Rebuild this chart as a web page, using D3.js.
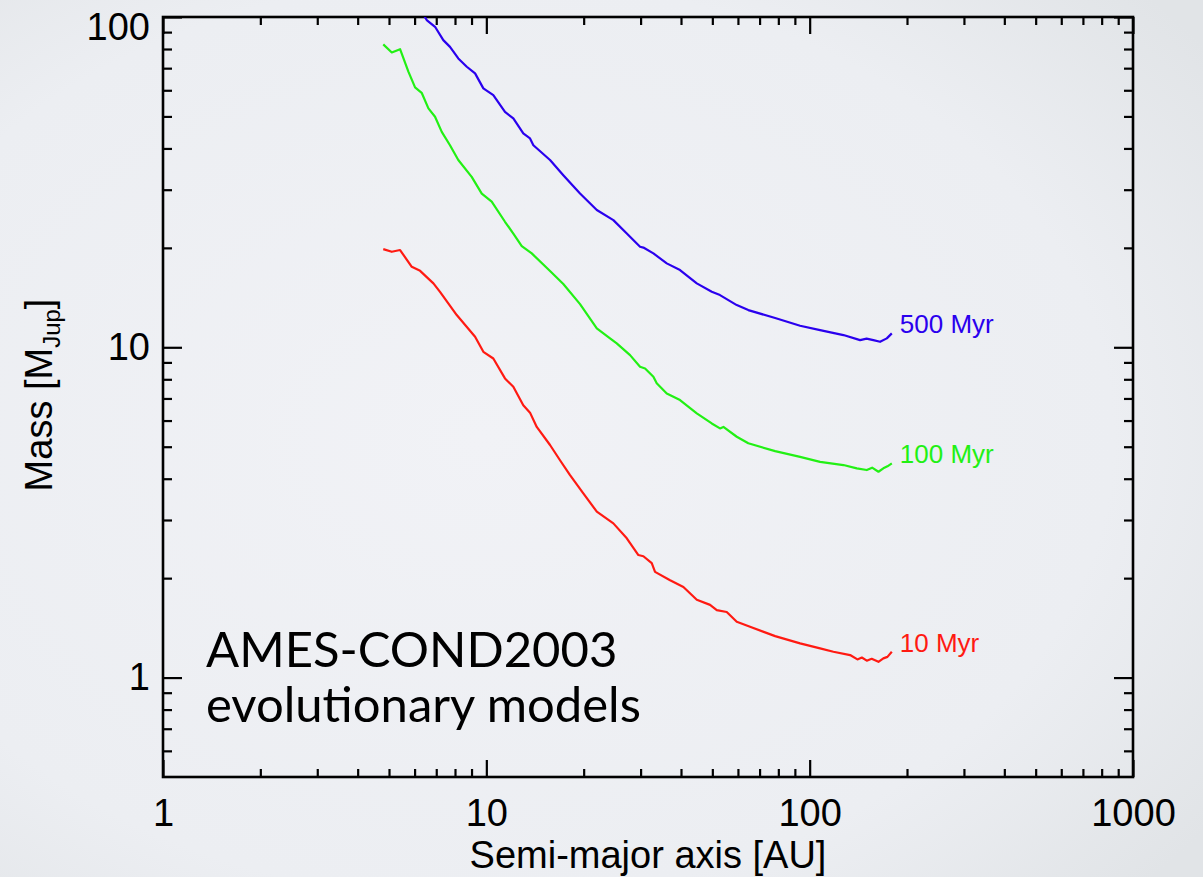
<!DOCTYPE html>
<html>
<head>
<meta charset="utf-8">
<script src="https://cdn.jsdelivr.net/npm/d3@7"></script>
<style>
  html, body { margin: 0; padding: 0; background: #eceef2; }
  svg { display: block; }
</style>
</head>
<body>
<div id="chart"></div>
<script>
// Semi-major axis [AU] and detection mass [MJup] per model age
var ageLabels = ['10 Myr', '100 Myr', '500 Myr'];
var ageColors = ['#ff1a12', '#22f014', '#2a00ee'];

var sepRed = [4.80, 5.10, 5.41, 5.88, 6.24, 6.86, 7.19, 8.10, 9.23, 9.79, 10.51, 11.42, 12.12, 13.01, 13.65, 14.32, 15.74, 16.90, 18.15, 19.95, 21.96, 24.71, 27.19, 29.53, 30.6, 32.48, 33.25, 37.01, 40.69, 44.76, 49.20, 51.6, 55.4, 59.5, 65.4, 78.2, 93.4, 107.7, 118.4, 133.4, 140.5, 145.0, 150.2, 155.5, 163.2, 169.0, 174.0, 179.5];
var massRed = [19.83, 19.46, 19.70, 17.52, 17.04, 15.61, 14.72, 12.52, 10.76, 9.69, 9.25, 8.05, 7.59, 6.68, 6.34, 5.74, 5.06, 4.55, 4.10, 3.61, 3.18, 2.93, 2.64, 2.35, 2.33, 2.22, 2.09, 1.97, 1.88, 1.72, 1.66, 1.60, 1.58, 1.475, 1.425, 1.335, 1.269, 1.226, 1.197, 1.170, 1.135, 1.150, 1.125, 1.140, 1.116, 1.143, 1.155, 1.197];

var sepGreen = [4.80, 5.10, 5.41, 5.74, 6.02, 6.31, 6.62, 6.94, 7.28, 7.72, 8.19, 9.01, 9.68, 10.39, 11.42, 12.12, 12.87, 13.82, 15.74, 17.30, 19.49, 21.96, 24.13, 25.31, 27.83, 29.88, 30.97, 32.86, 33.65, 36.14, 39.72, 44.76, 49.80, 52.8, 54.1, 59.5, 64.6, 78.2, 93.4, 107.7, 127.2, 139.9, 150.2, 156.0, 163.2, 169.0, 174.0, 179.5];
var massGreen = [82.6, 78.1, 79.9, 68.3, 61.2, 58.96, 52.9, 49.9, 44.9, 40.9, 36.9, 32.8, 29.2, 27.6, 23.99, 22.1, 20.25, 19.24, 17.03, 15.54, 13.51, 11.41, 10.64, 10.28, 9.47, 8.73, 8.63, 8.14, 7.78, 7.25, 6.92, 6.31, 5.88, 5.68, 5.74, 5.36, 5.12, 4.85, 4.66, 4.50, 4.40, 4.30, 4.25, 4.32, 4.20, 4.30, 4.36, 4.45];

var sepBlue = [6.3, 6.54, 6.94, 7.36, 7.72, 8.19, 8.70, 9.23, 9.79, 10.51, 11.42, 12.12, 13.01, 13.65, 13.98, 15.74, 17.30, 19.49, 21.96, 24.71, 27.19, 29.88, 30.6, 32.86, 36.14, 39.72, 44.76, 49.80, 52.8, 59.5, 64.6, 78.2, 93.4, 107.7, 127.2, 143.2, 150.0, 157.4, 165.1, 173.2, 179.5];
var massBlue = [104, 97.9, 93.4, 85.1, 81.2, 74.9, 70.7, 67.5, 60.8, 58.0, 51.6, 49.3, 44.4, 42.9, 40.9, 36.9, 33.2, 29.2, 26.03, 24.27, 22.1, 20.15, 20.04, 19.24, 17.95, 17.13, 15.61, 14.72, 14.39, 13.42, 12.96, 12.26, 11.62, 11.27, 10.89, 10.51, 10.62, 10.51, 10.39, 10.64, 11.02];

// tick values
var xMajor = [1, 10, 100, 1000];
var xMinor = [2, 3, 4, 5, 6, 7, 8, 9, 20, 30, 40, 50, 60, 70, 80, 90, 200, 300, 400, 500, 600, 700, 800, 900];
var yMajor = [1, 10, 100];
var yMinor = [0.6, 0.7, 0.8, 0.9, 2, 3, 4, 5, 6, 7, 8, 9, 20, 30, 40, 50, 60, 70, 80, 90];

var series = [
  { label: ageLabels[0], color: ageColors[0], sep: sepRed, mass: massRed },
  { label: ageLabels[1], color: ageColors[1], sep: sepGreen, mass: massGreen },
  { label: ageLabels[2], color: ageColors[2], sep: sepBlue, mass: massBlue }
];

// Set Width and Height
var svgWidth = 1203;
var svgHeight = 877;

var margin = { top: 17, right: 70, bottom: 100, left: 163 };
var width = 970;
var height = 760;

var svg = d3.select('#chart').append('svg')
  .attr('width', svgWidth)
  .attr('height', svgHeight);

// soft slide-like background
var defs = svg.append('defs');
var grad = defs.append('radialGradient')
  .attr('id', 'bg')
  .attr('cx', '40%').attr('cy', '50%').attr('r', '75%');
grad.append('stop').attr('offset', '0%').attr('stop-color', '#f1f2f6');
grad.append('stop').attr('offset', '70%').attr('stop-color', '#eceef2');
grad.append('stop').attr('offset', '100%').attr('stop-color', '#e1e4e7');

svg.append('rect')
  .attr('width', svgWidth)
  .attr('height', svgHeight)
  .attr('fill', 'url(#bg)');

defs.append('clipPath').attr('id', 'plotClip')
  .append('rect').attr('width', width).attr('height', height);

var chartGroup = svg.append('g')
  .attr('transform', `translate(${margin.left}, ${margin.top})`);

var xScale = d3.scaleLog().domain([1, 1000]).range([0, width]);
var yScale = d3.scaleLog().domain([0.5, 100]).range([height, 0]);

var tickFont = '"Liberation Sans", Arial, Helvetica, sans-serif';

function styleAxis(g, showText) {
  g.select('.domain').remove();
  g.selectAll('line').attr('stroke', '#000').attr('stroke-width', 2.2);
  g.selectAll('text')
    .attr('fill', '#000')
    .style('font-family', tickFont)
    .style('font-size', '38px');
  if (!showText) g.selectAll('text').remove();
}

// bottom axis
chartGroup.append('g')
  .attr('transform', `translate(0, ${height})`)
  .call(d3.axisBottom(xScale).tickValues(xMinor).tickSize(-8).tickFormat(''))
  .call(g => styleAxis(g, false));
chartGroup.append('g')
  .attr('transform', `translate(0, ${height})`)
  .call(d3.axisBottom(xScale).tickValues(xMajor).tickSize(-17).tickPadding(22).tickFormat(d3.format('d')))
  .call(g => styleAxis(g, true));

// top axis
chartGroup.append('g')
  .call(d3.axisTop(xScale).tickValues(xMinor).tickSize(-8).tickFormat(''))
  .call(g => styleAxis(g, false));
chartGroup.append('g')
  .call(d3.axisTop(xScale).tickValues(xMajor).tickSize(-17).tickFormat(''))
  .call(g => styleAxis(g, false));

// left axis
chartGroup.append('g')
  .call(d3.axisLeft(yScale).tickValues(yMinor).tickSize(-9).tickFormat(''))
  .call(g => styleAxis(g, false));
chartGroup.append('g')
  .call(d3.axisLeft(yScale).tickValues(yMajor).tickSize(-19).tickPadding(13).tickFormat(d3.format('d')))
  .call(g => styleAxis(g, true))
  // top label sits just inside the page edge
  .call(g => g.selectAll('.tick').filter(d => d === 100).select('text').attr('y', 10));

// right axis
chartGroup.append('g')
  .attr('transform', `translate(${width}, 0)`)
  .call(d3.axisRight(yScale).tickValues(yMinor).tickSize(-9).tickFormat(''))
  .call(g => styleAxis(g, false));
chartGroup.append('g')
  .attr('transform', `translate(${width}, 0)`)
  .call(d3.axisRight(yScale).tickValues(yMajor).tickSize(-19).tickFormat(''))
  .call(g => styleAxis(g, false));

// frame
chartGroup.append('rect')
  .attr('width', width)
  .attr('height', height)
  .attr('fill', 'none')
  .attr('stroke', '#000')
  .attr('stroke-width', 2.6);

// curves
var line = d3.line()
  .x(d => xScale(d[0]))
  .y(d => yScale(d[1]));

var curveGroup = chartGroup.append('g').attr('clip-path', 'url(#plotClip)');

series.forEach(function (s) {
  var pts = s.sep.map((a, i) => [a, s.mass[i]]);
  curveGroup.append('path')
    .datum(pts)
    .attr('d', line)
    .attr('fill', 'none')
    .attr('stroke', s.color)
    .attr('stroke-width', 2.2)
    .attr('stroke-linejoin', 'round');

  var last = pts[pts.length - 1];
  chartGroup.append('text')
    .attr('x', xScale(last[0]) + 8)
    .attr('y', yScale(last[1]))
    .attr('fill', s.color)
    .style('font-family', tickFont)
    .style('font-size', '26px')
    .text(s.label);
});

// axis titles
svg.append('text')
  .attr('x', margin.left + width / 2)
  .attr('y', 868)
  .attr('text-anchor', 'middle')
  .style('font-family', tickFont)
  .style('font-size', '38px')
  .text('Semi-major axis [AU]');

var yTitle = svg.append('text')
  .attr('transform', `translate(52, ${margin.top + height / 2 - 2}) rotate(-90)`)
  .attr('text-anchor', 'middle')
  .style('font-family', tickFont)
  .style('font-size', '38px');
yTitle.append('tspan').text('Mass [M');
yTitle.append('tspan').attr('dy', 8).style('font-size', '24px').text('Jup');
yTitle.append('tspan').attr('dy', -8).text(']');

// model annotation
var note = svg.append('text')
  .style('font-family', 'Lato, "Open Sans", sans-serif')
  .style('font-size', '49px')
  .attr('fill', '#000');
note.append('tspan').attr('x', 206).attr('y', 667).text('AMES-COND2003');
note.append('tspan').attr('x', 206).attr('y', 722).text('evolutionary models');
</script>
</body>
</html>
